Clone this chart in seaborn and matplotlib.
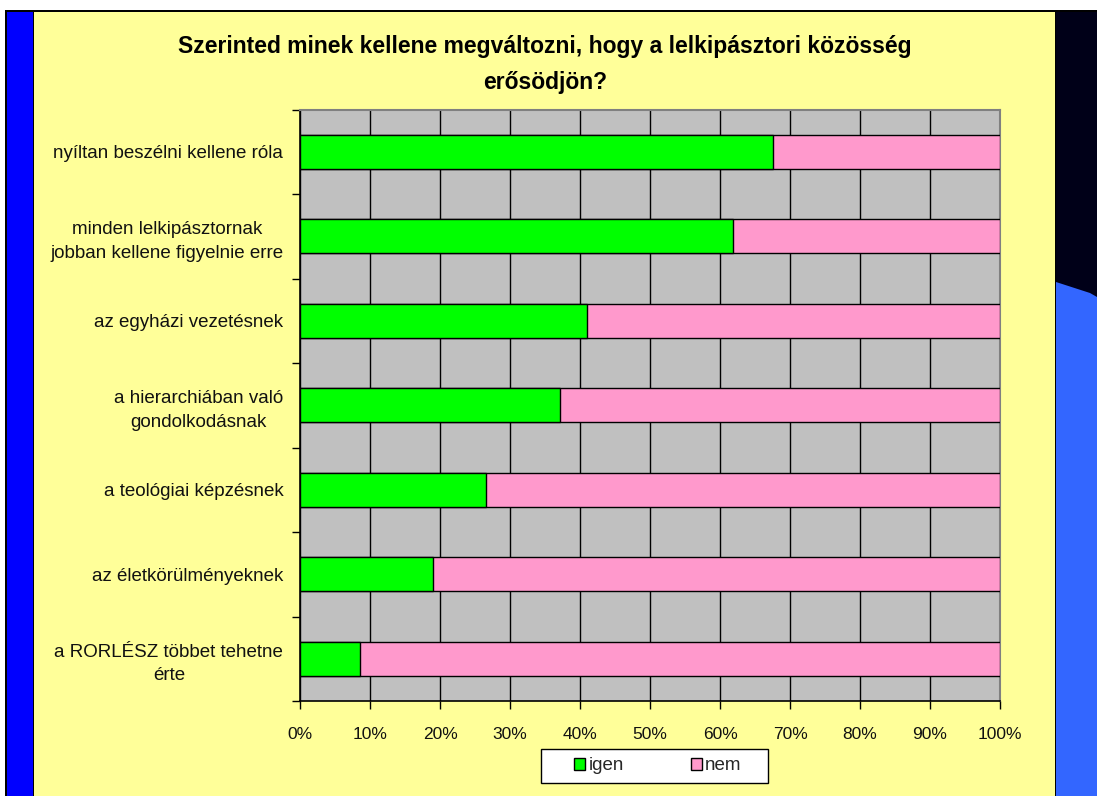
import matplotlib
matplotlib.use("Agg")
import matplotlib.pyplot as plt
from matplotlib.patches import Rectangle, Polygon, Patch
from matplotlib.ticker import FixedLocator, PercentFormatter
import seaborn as sns
import pandas as pd

# Survey answers (share of respondents, %)
categories = [
    "nyíltan beszélni kellene róla",
    "minden lelkipásztornak\njobban kellene figyelnie erre",
    "az egyházi vezetésnek",
    "a hierarchiában való\ngondolkodásnak",
    "a teológiai képzésnek",
    "az életkörülményeknek",
    "a RORLÉSZ többet tehetne\nérte",
]
igen = [67.5, 61.8, 41.0, 37.2, 26.6, 19.0, 8.6]
nem = [100 - v for v in igen]
series_names = ["igen", "nem"]
title = "Szerinted minek kellene megváltozni, hogy a lelkipásztori közösség\nerősödjön?"

GREEN = "#00FF00"
PINK = "#FF99CC"
PLOT_BG = "#C0C0C0"
PAGE_BG = "#FFFF99"

df = pd.DataFrame({"kategoria": categories, "igen": igen, "nem": nem})
df["osszes"] = df["igen"] + df["nem"]

sns.set_theme(style="white")
plt.rcParams["font.family"] = ["Liberation Sans", "DejaVu Sans"]

W, H = 1097, 796
fig = plt.figure(figsize=(W / 100, H / 100), dpi=100, facecolor="white")


def fx(px):
    return px / W


def fy(py):
    return 1 - py / H


# page decoration behind the chart
deco = [
    Rectangle((fx(5), fy(796)), fx(1097 - 5), fy(10) - fy(796), facecolor="black"),
    Rectangle((fx(34), fy(796)), fx(1055 - 34), fy(12) - fy(796), facecolor=PAGE_BG),
    Rectangle((fx(7), fy(796)), fx(33 - 7), fy(12) - fy(796), facecolor="#0000FF"),
    Rectangle((fx(1056), fy(796)), fx(1097 - 1056), fy(12) - fy(796), facecolor="#000018"),
    Polygon([(fx(1056), fy(282)), (fx(1090), fy(293)), (fx(1097), fy(297)),
             (fx(1097), fy(796)), (fx(1056), fy(796))], closed=True, facecolor="#3366FF"),
]
for p in deco:
    p.set_transform(fig.transFigure)
    p.set_linewidth(0)
    p.set_zorder(-10)
    fig.patches.append(p)

ax = fig.add_axes([fx(300), fy(701), fx(1000) - fx(300), fy(109.5) - fy(701)])
ax.set_zorder(5)
ax.set_facecolor(PLOT_BG)

sns.barplot(data=df, x="osszes", y="kategoria", orient="h", color=PINK, saturation=1,
            width=0.4, edgecolor="black", linewidth=1.0, ax=ax, zorder=3)
sns.barplot(data=df, x="igen", y="kategoria", orient="h", color=GREEN, saturation=1,
            width=0.4, edgecolor="black", linewidth=1.0, ax=ax, zorder=4)

ax.set_xlim(0, 100)
ax.set_ylim(len(categories) - 0.5, -0.5)
ax.set_xlabel("")
ax.set_ylabel("")

ax.xaxis.set_major_locator(FixedLocator(range(0, 101, 10)))
ax.xaxis.set_major_formatter(PercentFormatter(decimals=0))
ax.grid(axis="x", color="black", linewidth=1.0, zorder=1)
ax.set_axisbelow(True)

ax.yaxis.set_minor_locator(FixedLocator([i - 0.5 for i in range(len(categories) + 1)]))
ax.tick_params(axis="y", which="major", length=0, pad=12, labelsize=13.5, labelcolor="#111111")
ax.tick_params(axis="y", which="minor", length=6, width=1, color="black", direction="out", left=True)
ax.tick_params(axis="x", which="major", length=6, width=1, color="black", direction="out",
               bottom=True, pad=13, labelsize=12.5, labelcolor="#111111")
for lab in ax.get_yticklabels():
    lab.set_multialignment("center")
    lab.set_linespacing(1.5)

for side in ("left", "bottom"):
    ax.spines[side].set_color("black")
    ax.spines[side].set_linewidth(1.2)
for side in ("top", "right"):
    ax.spines[side].set_color("#808080")
    ax.spines[side].set_linewidth(1.5)

fig.text(fx(545), fy(64.5), title, ha="center", va="center", multialignment="center",
         fontsize=16.5, fontweight="bold", color="black", linespacing=1.75)

# legend box and entries
legend_box = Rectangle((fx(541), fy(783)), fx(768) - fx(541), fy(749) - fy(783),
                       transform=fig.transFigure, facecolor="white", edgecolor="black",
                       linewidth=1.0, zorder=6)
fig.patches.append(legend_box)
handles = [Patch(facecolor=GREEN, edgecolor="black", label=series_names[0]),
           Patch(facecolor=PINK, edgecolor="black", label=series_names[1])]
leg = fig.legend(handles=handles, loc="center", bbox_to_anchor=(fx(658), fy(766)),
                 ncol=2, frameon=False, fontsize=13.5, handlelength=0.55, handleheight=0.55,
                 handletextpad=0.2, columnspacing=3.6, borderpad=0, borderaxespad=0)
leg.set_zorder(7)

fig.savefig("out.png", dpi=100, facecolor=fig.get_facecolor())
